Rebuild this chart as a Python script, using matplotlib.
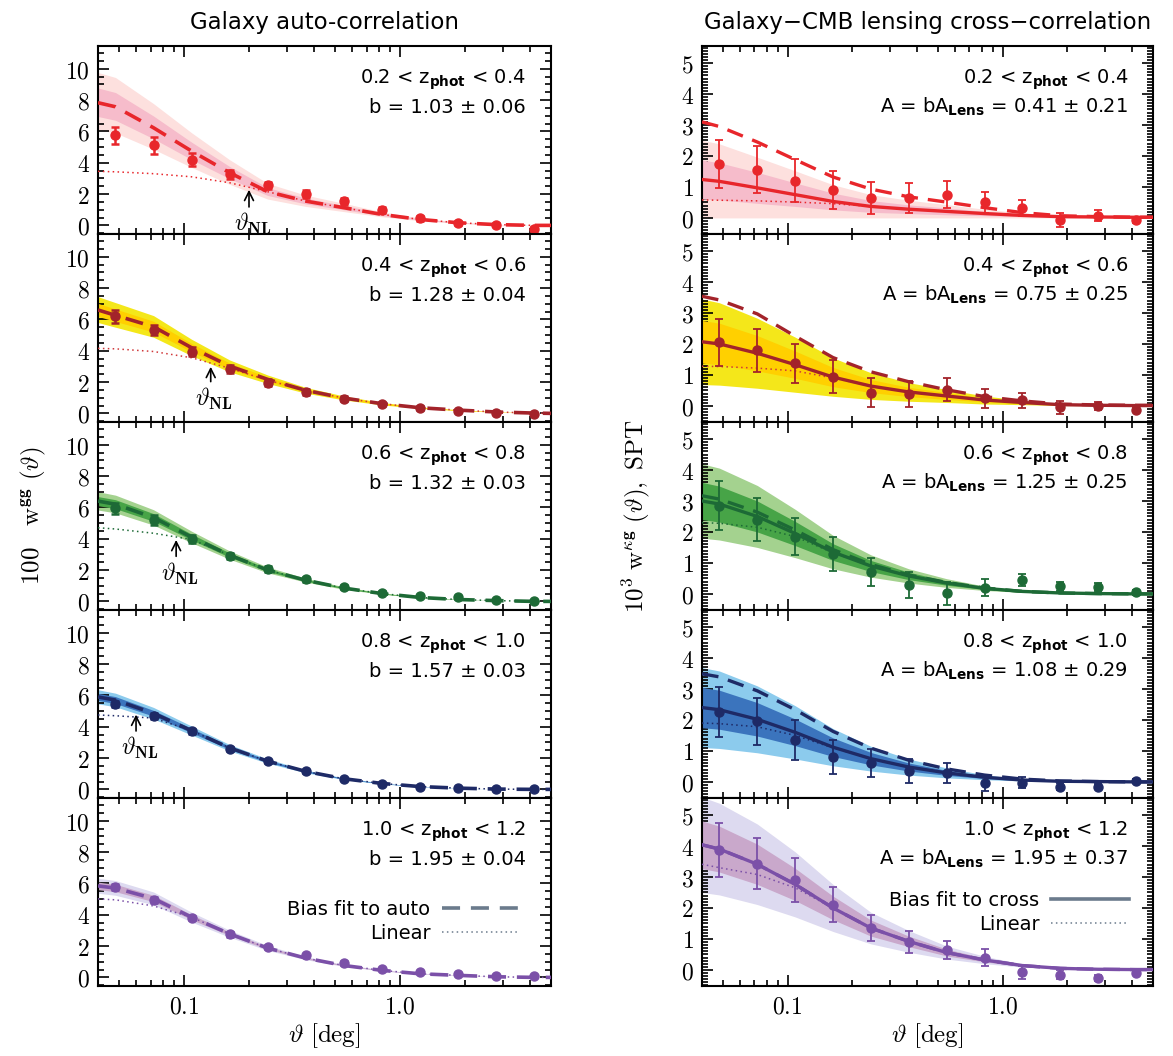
import matplotlib
matplotlib.use('Agg')
import matplotlib.pyplot as plt
from matplotlib.ticker import MultipleLocator, LogLocator, NullFormatter, FixedLocator, FixedFormatter
from matplotlib.lines import Line2D

plt.rcParams['font.family'] = ['DejaVu Sans']
plt.rcParams['mathtext.fontset'] = 'cm'

# ---------------- data ----------------
theta = [0.0482, 0.0723, 0.1085, 0.1627, 0.244, 0.366, 0.549, 0.824, 1.236, 1.853, 2.78, 4.17]
theta_model = [0.04, 0.0482, 0.0723, 0.1085, 0.1627, 0.244, 0.366, 0.549, 0.824, 1.236, 1.853, 2.78, 4.17, 5.0]

z_lo = ['0.2', '0.4', '0.6', '0.8', '1.0']
z_hi = ['0.4', '0.6', '0.8', '1.0', '1.2']
b_val = [1.03, 1.28, 1.32, 1.57, 1.95]
b_err = [0.06, 0.04, 0.03, 0.03, 0.04]
A_val = [0.41, 0.75, 1.25, 1.08, 1.95]
A_err = [0.21, 0.25, 0.25, 0.29, 0.37]
theta_nl = [0.2, 0.133, 0.092, 0.06]
nl_tip = [2.45, 3.15, 4.1, 4.95]
nl_tail = [1.0, 1.85, 2.7, 3.55]

# auto-correlation (100 w_gg)
auto1_y = [5.75, 5.1, 4.2, 3.25, 2.55, 2.0, 1.55, 1.0, 0.45, 0.15, 0.03, -0.2]
auto1_err = [0.55, 0.52, 0.4, 0.3, 0.25, 0.26, 0.22, 0.2, 0.15, 0.12, 0.1, 0.12]
auto1_fit = [7.83, 7.57, 6.23, 4.74, 3.36, 2.15, 1.55, 1.13, 0.70, 0.38, 0.17, 0.05, 0.0, 0.0]
auto1_lin = [3.45, 3.42, 3.3, 3.1, 2.72, 2.15, 1.55, 1.13, 0.70, 0.38, 0.17, 0.05, 0.0, 0.0]
auto1_in_lo = [6.95, 6.71, 5.53, 4.20, 2.98, 1.91, 1.37, 1.00, 0.62, 0.34, 0.15, 0.04, 0.0, 0.0]
auto1_in_hi = [8.77, 8.48, 6.98, 5.31, 3.76, 2.41, 1.74, 1.27, 0.78, 0.43, 0.19, 0.06, 0.0, 0.0]
auto1_out_lo = [6.11, 5.90, 4.86, 3.70, 2.62, 1.68, 1.21, 0.88, 0.55, 0.30, 0.13, 0.04, 0.0, 0.0]
auto1_out_hi = [9.76, 9.44, 7.77, 5.91, 4.19, 2.68, 1.93, 1.41, 0.87, 0.47, 0.21, 0.06, 0.0, 0.0]

auto2_y = [6.2, 5.3, 3.95, 2.82, 1.97, 1.38, 0.95, 0.6, 0.34, 0.15, 0.02, -0.06]
auto2_err = [0.4, 0.32, 0.3, 0.25, 0.25, 0.2, 0.15, 0.12, 0.1, 0.08, 0.06, 0.06]
auto2_fit = [6.6, 6.26, 5.53, 4.19, 3.02, 2.17, 1.47, 0.98, 0.62, 0.36, 0.21, 0.09, 0.02, 0.0]
auto2_lin = [4.15, 4.12, 3.95, 3.55, 2.88, 2.12, 1.47, 0.98, 0.62, 0.36, 0.21, 0.09, 0.02, 0.0]
auto2_in_lo = [6.19, 5.87, 5.19, 3.93, 2.83, 2.04, 1.38, 0.92, 0.58, 0.34, 0.20, 0.08, 0.02, 0.0]
auto2_in_hi = [7.02, 6.66, 5.88, 4.46, 3.21, 2.31, 1.56, 1.04, 0.66, 0.38, 0.22, 0.10, 0.02, 0.0]
auto2_out_lo = [5.80, 5.50, 4.86, 3.68, 2.65, 1.91, 1.29, 0.86, 0.54, 0.32, 0.18, 0.08, 0.02, 0.0]
auto2_out_hi = [7.45, 7.07, 6.24, 4.73, 3.41, 2.45, 1.66, 1.11, 0.70, 0.41, 0.24, 0.10, 0.02, 0.0]

auto3_y = [5.95, 5.2, 4.0, 2.9, 2.05, 1.4, 0.9, 0.55, 0.35, 0.25, 0.1, 0.02]
auto3_err = [0.35, 0.3, 0.25, 0.2, 0.18, 0.15, 0.12, 0.1, 0.08, 0.07, 0.06, 0.05]
auto3_fit = [6.4, 6.2, 5.35, 4.1, 2.95, 2.0, 1.35, 0.85, 0.5, 0.25, 0.12, 0.05, 0.0, 0.0]
auto3_lin = [4.7, 4.62, 4.35, 3.95, 2.95, 2.0, 1.35, 0.85, 0.5, 0.25, 0.12, 0.05, 0.0, 0.0]
auto3_in_lo = [6.11, 5.92, 5.11, 3.92, 2.82, 1.91, 1.29, 0.81, 0.48, 0.24, 0.11, 0.05, 0.0, 0.0]
auto3_in_hi = [6.69, 6.49, 5.60, 4.29, 3.09, 2.09, 1.41, 0.89, 0.52, 0.26, 0.13, 0.05, 0.0, 0.0]
auto3_out_lo = [5.83, 5.65, 4.87, 3.74, 2.69, 1.82, 1.23, 0.77, 0.46, 0.23, 0.11, 0.05, 0.0, 0.0]
auto3_out_hi = [7.0, 6.78, 5.85, 4.48, 3.22, 2.19, 1.48, 0.93, 0.55, 0.27, 0.13, 0.05, 0.0, 0.0]

auto4_y = [5.45, 4.7, 3.7, 2.6, 1.8, 1.15, 0.65, 0.35, 0.15, 0.1, 0.05, 0.0]
auto4_err = [0.2, 0.18, 0.15, 0.13, 0.1, 0.1, 0.08, 0.07, 0.06, 0.05, 0.05, 0.04]
auto4_fit = [5.9, 5.7, 4.85, 3.75, 2.65, 1.8, 1.15, 0.68, 0.38, 0.18, 0.08, 0.02, 0.0, 0.0]
auto4_lin = [4.75, 4.7, 4.55, 3.75, 2.65, 1.8, 1.15, 0.68, 0.38, 0.18, 0.08, 0.02, 0.0, 0.0]
auto4_in_lo = [5.68, 5.48, 4.67, 3.61, 2.55, 1.73, 1.11, 0.65, 0.37, 0.17, 0.08, 0.02, 0.0, 0.0]
auto4_in_hi = [6.13, 5.92, 5.04, 3.89, 2.75, 1.87, 1.19, 0.71, 0.39, 0.19, 0.08, 0.02, 0.0, 0.0]
auto4_out_lo = [5.46, 5.27, 4.49, 3.47, 2.45, 1.67, 1.06, 0.63, 0.35, 0.17, 0.07, 0.02, 0.0, 0.0]
auto4_out_hi = [6.36, 6.14, 5.23, 4.04, 2.86, 1.94, 1.24, 0.73, 0.41, 0.19, 0.09, 0.02, 0.0, 0.0]

auto5_y = [5.75, 4.95, 3.8, 2.75, 1.92, 1.4, 0.92, 0.55, 0.32, 0.21, 0.06, 0.08]
auto5_err = [0.2, 0.2, 0.15, 0.15, 0.12, 0.12, 0.1, 0.08, 0.07, 0.06, 0.05, 0.05]
auto5_fit = [5.84, 5.7, 5.03, 3.84, 2.78, 1.87, 1.23, 0.76, 0.45, 0.23, 0.13, 0.04, 0.0, 0.0]
auto5_lin = [5.01, 4.95, 4.56, 3.84, 2.78, 1.87, 1.23, 0.76, 0.45, 0.23, 0.13, 0.04, 0.0, 0.0]
auto5_in_lo = [5.60, 5.47, 4.83, 3.68, 2.67, 1.79, 1.18, 0.73, 0.43, 0.22, 0.12, 0.04, 0.0, 0.0]
auto5_in_hi = [6.08, 5.94, 5.24, 4.00, 2.90, 1.95, 1.28, 0.79, 0.47, 0.24, 0.14, 0.04, 0.0, 0.0]
auto5_out_lo = [5.37, 5.24, 4.63, 3.53, 2.56, 1.72, 1.13, 0.70, 0.41, 0.21, 0.12, 0.04, 0.0, 0.0]
auto5_out_hi = [6.33, 6.18, 5.45, 4.16, 3.01, 2.03, 1.33, 0.82, 0.49, 0.25, 0.14, 0.04, 0.0, 0.0]

# cross-correlation (10^3 w_kg)
cross1_y = [1.74, 1.56, 1.2, 0.9, 0.63, 0.64, 0.75, 0.51, 0.32, -0.06, 0.07, -0.08]
cross1_err = [0.79, 0.75, 0.69, 0.61, 0.52, 0.48, 0.43, 0.34, 0.27, 0.22, 0.17, 0.1]
cross1_fit = [1.24, 1.18, 0.97, 0.75, 0.53, 0.37, 0.28, 0.21, 0.14, 0.08, 0.04, 0.03, 0.02, 0.02]
cross1_auto = [3.1, 2.95, 2.45, 1.88, 1.32, 0.93, 0.68, 0.51, 0.33, 0.17, 0.07, 0.04, 0.02, 0.02]
cross1_lin = [0.58, 0.57, 0.55, 0.51, 0.46, 0.37, 0.28, 0.21, 0.14, 0.08, 0.04, 0.03, 0.02, 0.02]
cross1_in_lo = [0.61, 0.58, 0.47, 0.37, 0.26, 0.18, 0.14, 0.10, 0.07, 0.04, 0.02, 0.01, 0.01, 0.01]
cross1_in_hi = [1.87, 1.78, 1.47, 1.13, 0.80, 0.56, 0.42, 0.32, 0.21, 0.12, 0.06, 0.05, 0.03, 0.03]
cross1_out_lo = [0.0, 0.0, 0.0, 0.0, 0.0, 0.0, 0.0, 0.0, 0.0, 0.0, 0.0, 0.0, 0.0, 0.0]
cross1_out_hi = [2.51, 2.39, 1.96, 1.52, 1.07, 0.75, 0.57, 0.43, 0.28, 0.16, 0.08, 0.06, 0.04, 0.04]

cross2_y = [2.05, 1.79, 1.37, 0.94, 0.43, 0.38, 0.52, 0.24, 0.18, -0.05, 0.0, -0.13]
cross2_err = [0.76, 0.7, 0.63, 0.53, 0.47, 0.41, 0.37, 0.3, 0.25, 0.2, 0.14, 0.08]
cross2_fit = [2.07, 2.0, 1.70, 1.33, 0.93, 0.64, 0.45, 0.32, 0.19, 0.11, 0.04, 0.02, 0.01, 0.01]
cross2_auto = [3.54, 3.42, 2.97, 2.25, 1.56, 1.1, 0.78, 0.52, 0.3, 0.16, 0.06, 0.03, 0.02, 0.02]
cross2_lin = [1.28, 1.27, 1.22, 1.13, 0.9, 0.64, 0.45, 0.32, 0.19, 0.11, 0.04, 0.02, 0.01, 0.01]
cross2_in_lo = [1.38, 1.33, 1.13, 0.89, 0.62, 0.43, 0.30, 0.21, 0.13, 0.07, 0.03, 0.01, 0.01, 0.01]
cross2_in_hi = [2.76, 2.67, 2.27, 1.77, 1.24, 0.85, 0.60, 0.43, 0.25, 0.15, 0.05, 0.03, 0.01, 0.01]
cross2_out_lo = [0.69, 0.67, 0.57, 0.44, 0.31, 0.21, 0.15, 0.11, 0.06, 0.04, 0.01, 0.01, 0.0, 0.0]
cross2_out_hi = [3.45, 3.33, 2.83, 2.22, 1.55, 1.07, 0.75, 0.53, 0.32, 0.18, 0.07, 0.03, 0.02, 0.02]

cross3_y = [2.85, 2.4, 1.85, 1.3, 0.72, 0.3, 0.02, 0.2, 0.45, 0.25, 0.22, 0.05]
cross3_err = [0.78, 0.7, 0.6, 0.55, 0.45, 0.42, 0.38, 0.28, 0.2, 0.15, 0.12, 0.08]
cross3_fit = [3.0, 2.9, 2.5, 1.95, 1.35, 0.9, 0.58, 0.35, 0.18, 0.08, 0.03, 0.01, 0.0, 0.0]
cross3_auto = [3.17, 3.06, 2.64, 2.06, 1.43, 0.95, 0.61, 0.37, 0.19, 0.08, 0.03, 0.01, 0.0, 0.0]
cross3_lin = [2.3, 2.28, 2.15, 1.85, 1.33, 0.9, 0.58, 0.35, 0.18, 0.08, 0.03, 0.01, 0.0, 0.0]
cross3_in_lo = [2.4, 2.32, 2.0, 1.56, 1.08, 0.72, 0.46, 0.28, 0.14, 0.06, 0.02, 0.01, 0.0, 0.0]
cross3_in_hi = [3.6, 3.48, 3.0, 2.34, 1.62, 1.08, 0.70, 0.42, 0.22, 0.10, 0.04, 0.01, 0.0, 0.0]
cross3_out_lo = [1.8, 1.74, 1.5, 1.17, 0.81, 0.54, 0.35, 0.21, 0.11, 0.05, 0.02, 0.01, 0.0, 0.0]
cross3_out_hi = [4.2, 4.06, 3.5, 2.73, 1.89, 1.26, 0.81, 0.49, 0.25, 0.11, 0.04, 0.01, 0.0, 0.0]

cross4_y = [2.25, 1.95, 1.35, 0.8, 0.6, 0.35, 0.3, -0.05, -0.02, -0.15, -0.15, 0.03]
cross4_err = [0.8, 0.75, 0.65, 0.55, 0.45, 0.4, 0.32, 0.25, 0.18, 0.1, 0.08, 0.06]
cross4_fit = [2.4, 2.33, 2.02, 1.6, 1.12, 0.75, 0.48, 0.29, 0.15, 0.06, 0.02, 0.01, 0.0, 0.0]
cross4_auto = [3.49, 3.39, 2.94, 2.33, 1.63, 1.09, 0.70, 0.42, 0.22, 0.09, 0.03, 0.01, 0.0, 0.0]
cross4_lin = [1.9, 1.88, 1.78, 1.5, 1.1, 0.75, 0.48, 0.29, 0.15, 0.06, 0.02, 0.01, 0.0, 0.0]
cross4_in_lo = [1.75, 1.70, 1.48, 1.17, 0.82, 0.55, 0.35, 0.21, 0.11, 0.04, 0.01, 0.01, 0.0, 0.0]
cross4_in_hi = [3.05, 2.96, 2.56, 2.03, 1.42, 0.95, 0.61, 0.37, 0.19, 0.08, 0.03, 0.01, 0.0, 0.0]
cross4_out_lo = [1.11, 1.08, 0.94, 0.74, 0.52, 0.35, 0.22, 0.13, 0.07, 0.03, 0.01, 0.0, 0.0, 0.0]
cross4_out_hi = [3.69, 3.58, 3.10, 2.46, 1.72, 1.15, 0.74, 0.45, 0.23, 0.09, 0.03, 0.02, 0.0, 0.0]

cross5_y = [3.87, 3.43, 2.9, 2.11, 1.35, 0.9, 0.64, 0.4, -0.08, -0.15, -0.25, -0.09]
cross5_err = [0.88, 0.82, 0.72, 0.56, 0.42, 0.37, 0.3, 0.28, 0.2, 0.16, 0.1, 0.06]
cross5_fit = [4.04, 3.9, 3.41, 2.76, 2.0, 1.35, 0.92, 0.56, 0.32, 0.14, 0.05, 0.02, 0.01, 0.01]
cross5_auto = [4.04, 3.9, 3.41, 2.76, 2.0, 1.35, 0.92, 0.56, 0.32, 0.14, 0.05, 0.02, 0.01, 0.01]
cross5_lin = [3.41, 3.3, 3.08, 2.65, 2.0, 1.35, 0.92, 0.56, 0.32, 0.14, 0.05, 0.02, 0.01, 0.01]
cross5_in_lo = [3.27, 3.16, 2.76, 2.24, 1.62, 1.09, 0.75, 0.45, 0.26, 0.11, 0.04, 0.02, 0.01, 0.01]
cross5_in_hi = [4.81, 4.64, 4.06, 3.28, 2.38, 1.61, 1.09, 0.67, 0.38, 0.17, 0.06, 0.02, 0.01, 0.01]
cross5_out_lo = [2.5, 2.42, 2.11, 1.71, 1.24, 0.84, 0.57, 0.35, 0.2, 0.09, 0.03, 0.01, 0.01, 0.01]
cross5_out_hi = [5.58, 5.38, 4.71, 3.81, 2.76, 1.86, 1.27, 0.77, 0.44, 0.19, 0.07, 0.03, 0.01, 0.01]

# colours per redshift bin
point_colors = ['#e8262b', '#a3232a', '#1d6a36', '#1e2a66', '#7b50a8']
lin_colors = ['#e8262b', '#d0383a', '#1d6a36', '#1e2a66', '#7b50a8']
band_inner = ['#f6bccb', '#ffd000', '#47a447', '#3b74bd', '#c9a8cb']
band_outer = ['#fde0de', '#f4e71a', '#a4d28f', '#8ccbed', '#dddaf0']

auto_sets = [
    (auto1_y, auto1_err, auto1_fit, auto1_lin, auto1_in_lo, auto1_in_hi, auto1_out_lo, auto1_out_hi),
    (auto2_y, auto2_err, auto2_fit, auto2_lin, auto2_in_lo, auto2_in_hi, auto2_out_lo, auto2_out_hi),
    (auto3_y, auto3_err, auto3_fit, auto3_lin, auto3_in_lo, auto3_in_hi, auto3_out_lo, auto3_out_hi),
    (auto4_y, auto4_err, auto4_fit, auto4_lin, auto4_in_lo, auto4_in_hi, auto4_out_lo, auto4_out_hi),
    (auto5_y, auto5_err, auto5_fit, auto5_lin, auto5_in_lo, auto5_in_hi, auto5_out_lo, auto5_out_hi),
]
cross_sets = [
    (cross1_y, cross1_err, cross1_fit, cross1_auto, cross1_lin, cross1_in_lo, cross1_in_hi, cross1_out_lo, cross1_out_hi),
    (cross2_y, cross2_err, cross2_fit, cross2_auto, cross2_lin, cross2_in_lo, cross2_in_hi, cross2_out_lo, cross2_out_hi),
    (cross3_y, cross3_err, cross3_fit, cross3_auto, cross3_lin, cross3_in_lo, cross3_in_hi, cross3_out_lo, cross3_out_hi),
    (cross4_y, cross4_err, cross4_fit, cross4_auto, cross4_lin, cross4_in_lo, cross4_in_hi, cross4_out_lo, cross4_out_hi),
    (cross5_y, cross5_err, cross5_fit, cross5_auto, cross5_lin, cross5_in_lo, cross5_in_hi, cross5_out_lo, cross5_out_hi),
]

# ---------------- figure ----------------
W, H = 1173, 1056
fig = plt.figure(figsize=(W / 100, H / 100), dpi=100)

top_px, bot_px = 46, 986
ph = (bot_px - top_px) / 5
left_x0, left_x1 = 98, 551
right_x0, right_x1 = 702, 1153
XLIM = (0.0400, 5.0)
DASH = (0, (5, 3))
DOT = (0, (1, 2.2))


def style_axis(ax, ylim, ymin, yticks, bottom):
    ax.set_xscale('log')
    ax.set_xlim(*XLIM)
    ax.set_ylim(*ylim)
    ax.xaxis.set_major_locator(FixedLocator([0.1, 1.0]))
    ax.xaxis.set_minor_locator(LogLocator(base=10, subs=range(2, 10), numticks=20))
    ax.xaxis.set_minor_formatter(NullFormatter())
    if bottom:
        ax.xaxis.set_major_formatter(FixedFormatter(['$0.1$', '$1.0$']))
    else:
        ax.xaxis.set_major_formatter(NullFormatter())
    ax.yaxis.set_major_locator(FixedLocator(yticks))
    ax.yaxis.set_major_formatter(FixedFormatter(['$%d$' % t for t in yticks]))
    ax.yaxis.set_minor_locator(MultipleLocator(ymin))
    ax.tick_params(which='both', direction='in', top=True, right=True, width=1.2, colors='black')
    ax.tick_params(which='major', length=8, labelsize=17, pad=6)
    ax.tick_params(which='minor', length=4)
    for s in ax.spines.values():
        s.set_linewidth(1.5)


for r in range(5):
    y0 = 1 - (top_px + (r + 1) * ph) / H
    hfrac = ph / H
    axL = fig.add_axes([left_x0 / W, y0, (left_x1 - left_x0) / W, hfrac])
    axR = fig.add_axes([right_x0 / W, y0, (right_x1 - right_x0) / W, hfrac])
    bottom = (r == 4)
    style_axis(axL, (-0.55, 11.45), 0.5, [0, 2, 4, 6, 8, 10], bottom)
    style_axis(axR, (-0.52, 5.55), 0.1, [0, 1, 2, 3, 4, 5], bottom)

    pc, lc = point_colors[r], lin_colors[r]

    # ----- auto -----
    y, e, fit, lin, ilo, ihi, olo, ohi = auto_sets[r]
    axL.fill_between(theta_model, olo, ohi, color=band_outer[r], lw=0, zorder=1)
    axL.fill_between(theta_model, ilo, ihi, color=band_inner[r], lw=0, zorder=2)
    axL.plot(theta_model, lin, ls=DOT, color=lc, lw=1.1, zorder=3)
    axL.plot(theta_model, fit, ls=DASH, color=pc, lw=2.6, zorder=4)
    axL.errorbar(theta, y, yerr=e, fmt='o', color=pc, ms=6.5, capsize=3,
                 elinewidth=1.8, capthick=1.8, zorder=5)
    axL.text(0.945, 0.82, z_lo[r] + ' < z$_{\\mathbf{phot}}$ < ' + z_hi[r],
             transform=axL.transAxes, ha='right', va='center', fontsize=14,
             math_fontfamily='dejavusans')
    axL.text(0.945, 0.675, 'b = %.2f \u00b1 %.2f' % (b_val[r], b_err[r]),
             transform=axL.transAxes, ha='right', va='center', fontsize=14)
    if r < 4:
        axL.annotate('', xy=(theta_nl[r], nl_tip[r]), xytext=(theta_nl[r], nl_tail[r]),
                     arrowprops=dict(arrowstyle='->', color='black', lw=1.2,
                                     mutation_scale=16), zorder=6)
        axL.text(theta_nl[r] * 1.04, nl_tail[r] - 0.1, r'$\vartheta_{\mathbf{NL}}$',
                 ha='center', va='top', fontsize=17, zorder=6)

    # ----- cross -----
    y, e, fit, fauto, lin, ilo, ihi, olo, ohi = cross_sets[r]
    axR.fill_between(theta_model, olo, ohi, color=band_outer[r], lw=0, zorder=1)
    axR.fill_between(theta_model, ilo, ihi, color=band_inner[r], lw=0, zorder=2)
    axR.plot(theta_model, lin, ls=DOT, color=lc, lw=1.1, zorder=3)
    axR.plot(theta_model, fauto, ls=DASH, color=pc, lw=2.4, zorder=4)
    axR.plot(theta_model, fit, ls='-', color=pc, lw=2.4, zorder=4)
    axR.errorbar(theta, y, yerr=e, fmt='o', color=pc, ms=6.5, capsize=3,
                 elinewidth=1.3, capthick=1.3, zorder=5)
    axR.text(0.945, 0.82, z_lo[r] + ' < z$_{\\mathbf{phot}}$ < ' + z_hi[r],
             transform=axR.transAxes, ha='right', va='center', fontsize=14,
             math_fontfamily='dejavusans')
    axR.text(0.945, 0.675, 'A = bA$_{\\mathbf{Lens}}$ = %.2f \u00b1 %.2f' % (A_val[r], A_err[r]),
             transform=axR.transAxes, ha='right', va='center', fontsize=14,
             math_fontfamily='dejavusans')

    if bottom:
        leg_col = '#6b7b8c'
        hL = [Line2D([], [], ls=DASH, color=leg_col, lw=2.6),
              Line2D([], [], ls=DOT, color=leg_col, lw=1.1)]
        axL.legend(hL, ['Bias fit to auto', 'Linear'], loc='center right',
                   bbox_to_anchor=(0.97, 0.345), frameon=False, markerfirst=False,
                   handlelength=4.0, fontsize=14, labelspacing=0.25, handletextpad=0.6)
        hR = [Line2D([], [], ls='-', color=leg_col, lw=2.6),
              Line2D([], [], ls=DOT, color=leg_col, lw=1.1)]
        axR.legend(hR, ['Bias fit to cross', 'Linear'], loc='center right',
                   bbox_to_anchor=(0.985, 0.39), frameon=False, markerfirst=False,
                   handlelength=4.0, fontsize=14, labelspacing=0.25, handletextpad=0.6)
        axL.set_xlabel(r'$\vartheta\ [\mathrm{deg}]$', fontsize=18, labelpad=2)
        axR.set_xlabel(r'$\vartheta\ [\mathrm{deg}]$', fontsize=18, labelpad=2)

fig.text((left_x0 + left_x1) / 2 / W, 1 - 22 / H, 'Galaxy auto-correlation',
         ha='center', va='center', fontsize=16.5)
fig.text((right_x0 + right_x1) / 2 / W, 1 - 22 / H, 'Galaxy\u2212CMB lensing cross\u2212correlation',
         ha='center', va='center', fontsize=16.5)
fig.text(33 / W, 0.5 * (1 - top_px / H + 1 - bot_px / H),
         r'$100\quad \mathrm{w}^{\mathbf{gg}}\ (\vartheta)$', rotation=90,
         ha='center', va='center', fontsize=18)
fig.text(636 / W, 0.5 * (1 - top_px / H + 1 - bot_px / H),
         r'$10^3\ \mathrm{w}^{\kappa\mathbf{g}}\ (\vartheta),\ \mathrm{SPT}$', rotation=90,
         ha='center', va='center', fontsize=18)

fig.savefig('out.png', dpi=100)
